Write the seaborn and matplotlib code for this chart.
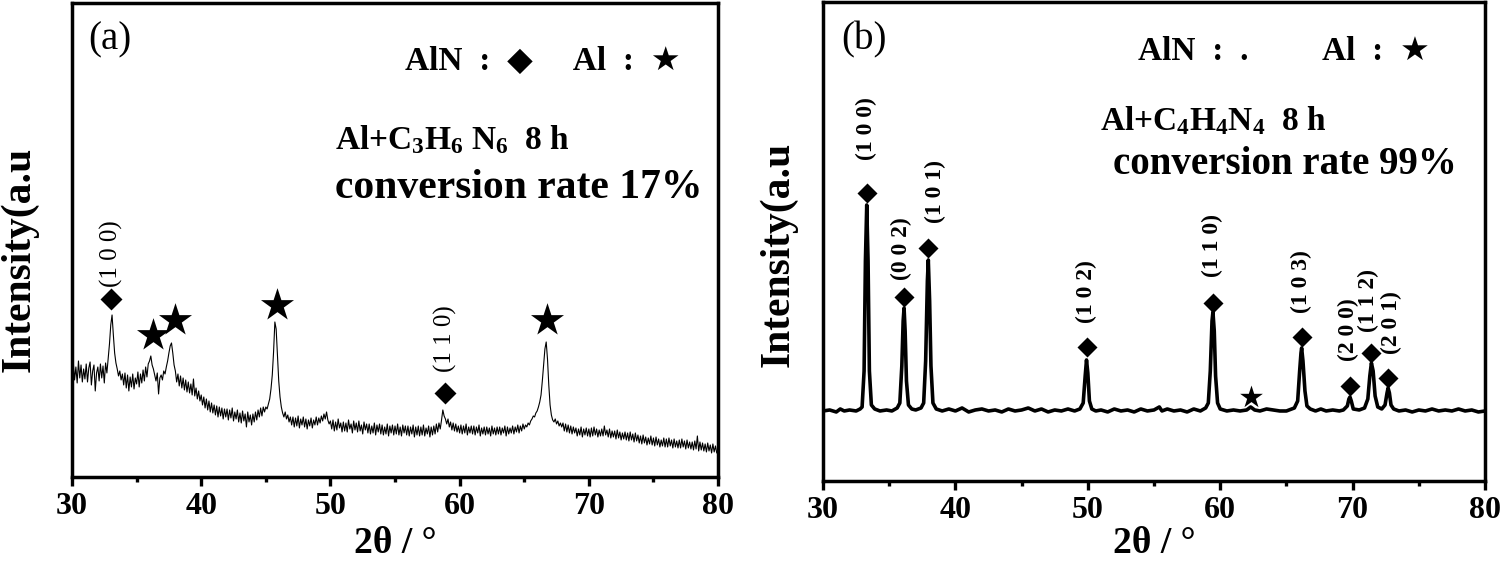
import numpy as np
import pandas as pd
import seaborn as sns
import matplotlib.pyplot as plt
from matplotlib.ticker import MultipleLocator

# ---- panel (a): Al + C3H6N6, 8 h (noisy scan, counts every 0.1 deg from 30 deg)
scan_a_start = 30.0
scan_a_step = 0.1
counts_a = [
    106, 114, 97, 110, 94, 116, 99, 112, 95, 108,       # 30
    98, 113, 95, 109, 115, 92, 106, 112, 86, 104,       # 31
    110, 96, 113, 99, 111, 94, 114, 104, 119, 133,      # 32
    152, 162, 142, 124, 114, 108, 101, 106, 97, 103,    # 33
    92, 104, 89, 102, 86, 100, 90, 103, 88, 99,         # 34
    93, 105, 90, 103, 94, 107, 96, 110, 100, 113,       # 35
    116, 121, 112, 108, 102, 96, 104, 83, 99, 102,      # 36
    97, 106, 103, 110, 116, 124, 131, 134, 124, 112,    # 37
    106, 95, 103, 91, 101, 89, 99, 87, 97, 85,          # 38
    95, 84, 93, 82, 98, 81, 89, 78, 86, 76,             # 39
    82, 72, 80, 69, 78, 67, 76, 65, 74, 64,             # 40
    72, 62, 71, 60, 70, 61, 69, 58, 68, 60,             # 41
    68, 57, 67, 59, 69, 56, 65, 58, 67, 55,             # 42
    64, 54, 66, 56, 63, 50, 65, 55, 62, 52,             # 43
    63, 55, 65, 57, 67, 60, 69, 61, 70, 65,             # 44
    70, 68, 73, 78, 88, 102, 125, 155, 148, 122,        # 45
    96, 80, 70, 64, 60, 65, 58, 62, 55, 60,             # 46
    52, 60, 50, 59, 51, 61, 49, 58, 52, 60,             # 47
    50, 58, 48, 57, 51, 59, 49, 57, 52, 60,             # 48
    52, 59, 54, 61, 56, 63, 58, 65, 57, 53,             # 49
    56, 48, 57, 46, 55, 47, 58, 49, 54, 45,             # 50
    55, 46, 54, 45, 57, 48, 53, 44, 56, 47,             # 51
    54, 45, 56, 46, 52, 43, 55, 47, 53, 44,             # 52
    53, 43, 51, 44, 54, 42, 52, 45, 53, 43,             # 53
    52, 42, 50, 43, 53, 41, 51, 44, 52, 42,             # 54
    51, 43, 53, 42, 50, 41, 52, 44, 51, 42,             # 55
    51, 41, 50, 43, 52, 40, 50, 42, 51, 41,             # 56
    50, 42, 52, 41, 49, 43, 51, 40, 50, 42,             # 57
    51, 43, 53, 45, 54, 48, 57, 67, 61, 58,             # 58
    53, 58, 50, 55, 47, 54, 46, 53, 45, 51,             # 59
    44, 52, 43, 51, 44, 53, 42, 50, 44, 51,             # 60
    43, 51, 42, 50, 44, 52, 41, 49, 43, 50,             # 61
    42, 50, 43, 49, 41, 51, 43, 49, 42, 50,             # 62
    43, 50, 42, 49, 44, 51, 41, 50, 43, 49,             # 63
    44, 51, 43, 50, 45, 52, 44, 51, 46, 53,             # 64
    48, 52, 50, 54, 52, 56, 58, 61, 60, 64,             # 65
    66, 70, 75, 82, 96, 112, 128, 135, 118, 92,         # 66
    72, 62, 57, 55, 58, 53, 56, 51, 54, 50,             # 67
    54, 46, 53, 45, 52, 44, 51, 43, 50, 44,             # 68
    49, 41, 48, 42, 50, 40, 48, 42, 49, 41,             # 69
    48, 40, 49, 41, 50, 42, 48, 40, 47, 41,             # 70
    48, 41, 51, 42, 47, 40, 48, 39, 46, 40,             # 71
    46, 38, 47, 39, 45, 37, 44, 38, 45, 37,             # 72
    44, 36, 45, 37, 43, 35, 44, 36, 42, 34,             # 73
    41, 33, 42, 34, 40, 32, 39, 33, 41, 32,             # 74
    39, 31, 40, 32, 38, 30, 37, 31, 39, 30,             # 75
    38, 30, 39, 31, 37, 29, 38, 30, 36, 29,             # 76
    37, 29, 38, 30, 36, 28, 37, 29, 35, 28,             # 77
    35, 27, 36, 28, 41, 26, 35, 27, 34, 26,             # 78
    33, 25, 34, 26, 32, 24, 33, 25, 31, 24,             # 79
    27,                                                 # 80
]

dia_a_angle = [33.05, 58.9]
dia_a_height = [178, 84]
star_a_angle = [36.3, 37.97, 45.9, 66.8]
star_a_height = [142, 157, 172, 157]
hkl_a = ["(1 0 0)", "(1 1 0)"]
hkl_a_angle = [33.05, 58.87]
hkl_a_base = [190, 105]

# ---- panel (b): Al + C4H4N4, 8 h (smooth pattern, angle / intensity nodes)
angle_b = [30.0, 30.5, 31.0, 31.3, 31.6, 32.0, 32.5, 32.8,
           32.95, 33.1, 33.2, 33.3, 33.4, 33.5, 33.65, 33.9,
           34.3, 34.8, 35.2, 35.6,
           35.8, 35.95, 36.05, 36.12, 36.2, 36.3, 36.45, 36.7,
           37.0, 37.4,
           37.6, 37.75, 37.88, 37.95, 38.05, 38.15, 38.3, 38.55,
           39.0, 39.5, 40.0, 40.5, 41.0, 41.5, 42.0, 42.5, 43.0, 43.5,
           44.0, 44.5, 45.0, 45.5, 46.0, 46.5, 47.0, 47.5, 48.0, 48.5,
           49.0, 49.4,
           49.65, 49.8, 49.9, 50.0, 50.12, 50.3,
           50.6, 51.0, 51.5, 52.0, 52.5, 53.0, 53.5, 54.0, 54.5, 55.0,
           55.4, 55.6, 56.0, 56.5, 57.0, 57.5, 58.0, 58.5, 58.9,
           59.1, 59.25, 59.38, 59.45, 59.55, 59.65, 59.8, 60.0,
           60.5, 61.0, 61.5, 62.0, 62.3, 62.6, 63.0, 63.5, 64.0, 64.5,
           65.0, 65.6,
           65.85, 66.0, 66.1, 66.15, 66.25, 66.4, 66.55, 66.8,
           67.2, 67.6, 68.0, 68.5, 69.0, 69.3,
           69.6, 69.72, 69.8, 69.9, 70.05,
           70.5, 70.9,
           71.15, 71.3, 71.42, 71.55, 71.7, 71.9,
           72.2, 72.45,
           72.6, 72.68, 72.78, 72.9, 73.1,
           73.5, 74.0, 74.5, 75.0, 75.5, 76.0, 76.5, 77.0, 77.5, 78.0,
           78.5, 79.0, 79.5, 80.0]
counts_b = [70, 71, 69, 72, 70, 71, 70, 72,
            74, 110, 220, 276, 220, 110, 76, 72,
            70, 71, 70, 73,
            78, 115, 160, 173, 150, 100, 76, 72,
            71, 73,
            78, 120, 200, 221, 180, 115, 78, 72,
            70, 72, 70, 73, 69, 71, 72, 70, 71, 69,
            72, 70, 71, 73, 70, 72, 69, 71, 70, 72,
            70, 72,
            78, 105, 121, 108, 80, 72,
            70, 71, 69, 72, 70, 71, 69, 72, 70, 71,
            74, 70, 72, 70, 71, 69, 72, 70, 73,
            78, 110, 160, 169, 150, 105, 78, 72,
            70, 71, 70, 71, 74, 71, 70, 72, 71, 70,
            70, 73,
            80, 110, 128, 133, 120, 90, 75, 72,
            70, 72, 70, 71, 70, 71,
            75, 82, 84, 80, 72,
            71, 73,
            82, 105, 118, 110, 85, 74,
            72, 76,
            88, 93, 88, 76, 72,
            70, 71, 69, 71, 70, 72, 70, 71, 70, 72,
            70, 71, 69, 70]

dia_b_angle = [33.3, 36.12, 37.95, 49.9, 59.45, 66.15, 69.8, 71.42, 72.7]
dia_b_height = [288, 184, 233, 134, 178, 144, 95, 128, 103]
star_b_angle = [62.3]
star_b_height = [84]
hkl_b = ["(1 0 0)", "(0 0 2)", "(1 0 1)", "(1 0 2)", "(1 1 0)",
         "(1 0 3)", "(2 0 0)", "(1 1 2)", "(2 0 1)"]
hkl_b_angle = [33.3, 35.95, 38.46, 49.9, 59.45, 66.15, 69.65, 71.16, 72.95]
hkl_b_base = [321, 201, 258, 158, 204, 168, 120, 149, 127]


sns.set_style("ticks")
plt.rcParams["font.family"] = ["Liberation Serif", "DejaVu Sans"]
plt.rcParams["font.weight"] = "bold"
plt.rcParams["mathtext.default"] = "regular"
plt.rcParams["text.color"] = "black"
plt.rcParams["axes.labelcolor"] = "black"
plt.rcParams["xtick.color"] = "black"
plt.rcParams["axes.edgecolor"] = "black"

angle_a = scan_a_start + scan_a_step * np.arange(len(counts_a))
df_a = pd.DataFrame({"angle": angle_a, "counts": counts_a})
df_b = pd.DataFrame({"angle": angle_b, "counts": counts_b})

fig = plt.figure(figsize=(15, 5.64), dpi=100)
ax1 = fig.add_axes([0.048, 0.1543, 0.4307, 0.8404])
ax2 = fig.add_axes([0.5487, 0.1472, 0.4413, 0.8493])


def style_axes(ax, ymax, pad):
    ax.set_xlim(30, 80)
    ax.set_ylim(0, ymax)
    ax.set_yticks([])
    ax.xaxis.set_major_locator(MultipleLocator(10))
    ax.xaxis.set_minor_locator(MultipleLocator(5))
    ax.tick_params(axis="x", which="major", direction="out", length=6.5,
                   width=2.4, labelsize=23, pad=4)
    ax.tick_params(axis="x", which="minor", direction="out", length=3.5, width=2.4)
    for sp in ax.spines.values():
        sp.set_visible(True)
        sp.set_linewidth(2.5)
        sp.set_color("black")
    ax.set_xlabel("2θ / °", fontsize=27, fontweight="bold", labelpad=pad)
    ax.set_ylabel("Intensity(a.u", fontsize=30, fontweight="bold")


# (a)
sns.lineplot(data=df_a, x="angle", y="counts", ax=ax1, color="black", linewidth=0.8)
sns.scatterplot(x=dia_a_angle, y=dia_a_height, ax=ax1, marker="D", s=125,
                color="black", linewidth=0, zorder=3)
sns.scatterplot(x=star_a_angle, y=star_a_height, ax=ax1, marker="*", s=625,
                color="black", linewidth=0, zorder=3)
for lab, a, b in zip(hkl_a, hkl_a_angle, hkl_a_base):
    ax1.text(a, b, lab, rotation=90, ha="center", va="bottom", fontsize=18,
             fontweight="normal")
style_axes(ax1, 474, 4)
ax1.yaxis.set_label_coords(-0.052, 0.46)
ax1.text(0.025, 0.922, "(a)", transform=ax1.transAxes, fontsize=28,
         fontweight="normal", ha="left", va="center")
ax1.text(0.515, 0.876, "AlN  :  ◆     Al  :  ★", transform=ax1.transAxes,
         fontsize=24, ha="left", va="center")
ax1.text(0.407, 0.711, "Al+C$_3$H$_6$ N$_6$  8 h", transform=ax1.transAxes,
         fontsize=24, ha="left", va="center")
ax1.text(0.407, 0.61, "conversion rate 17%", transform=ax1.transAxes,
         fontsize=30, ha="left", va="center")

# (b)
sns.lineplot(data=df_b, x="angle", y="counts", ax=ax2, color="black", linewidth=2.6)
sns.scatterplot(x=dia_b_angle, y=dia_b_height, ax=ax2, marker="D", s=104,
                color="black", linewidth=0, zorder=3)
sns.scatterplot(x=star_b_angle, y=star_b_height, ax=ax2, marker="*", s=296,
                color="black", linewidth=0, zorder=3)
for lab, a, b in zip(hkl_b, hkl_b_angle, hkl_b_base):
    ax2.text(a, b, lab, rotation=90, ha="center", va="bottom", fontsize=17,
             fontweight="bold")
style_axes(ax2, 479, 1)
ax2.yaxis.set_label_coords(-0.039, 0.473)
ax2.text(0.027, 0.92, "(b)", transform=ax2.transAxes, fontsize=28,
         fontweight="normal", ha="left", va="center")
ax2.text(0.476, 0.897, "AlN  :  .         Al  :  ★", transform=ax2.transAxes,
         fontsize=24, ha="left", va="center")
ax2.text(0.418, 0.751, "Al+C$_4$H$_4$N$_4$  8 h", transform=ax2.transAxes,
         fontsize=24, ha="left", va="center")
ax2.text(0.438, 0.661, "conversion rate 99%", transform=ax2.transAxes,
         fontsize=28, ha="left", va="center")

fig.savefig("out.png", dpi=100)
